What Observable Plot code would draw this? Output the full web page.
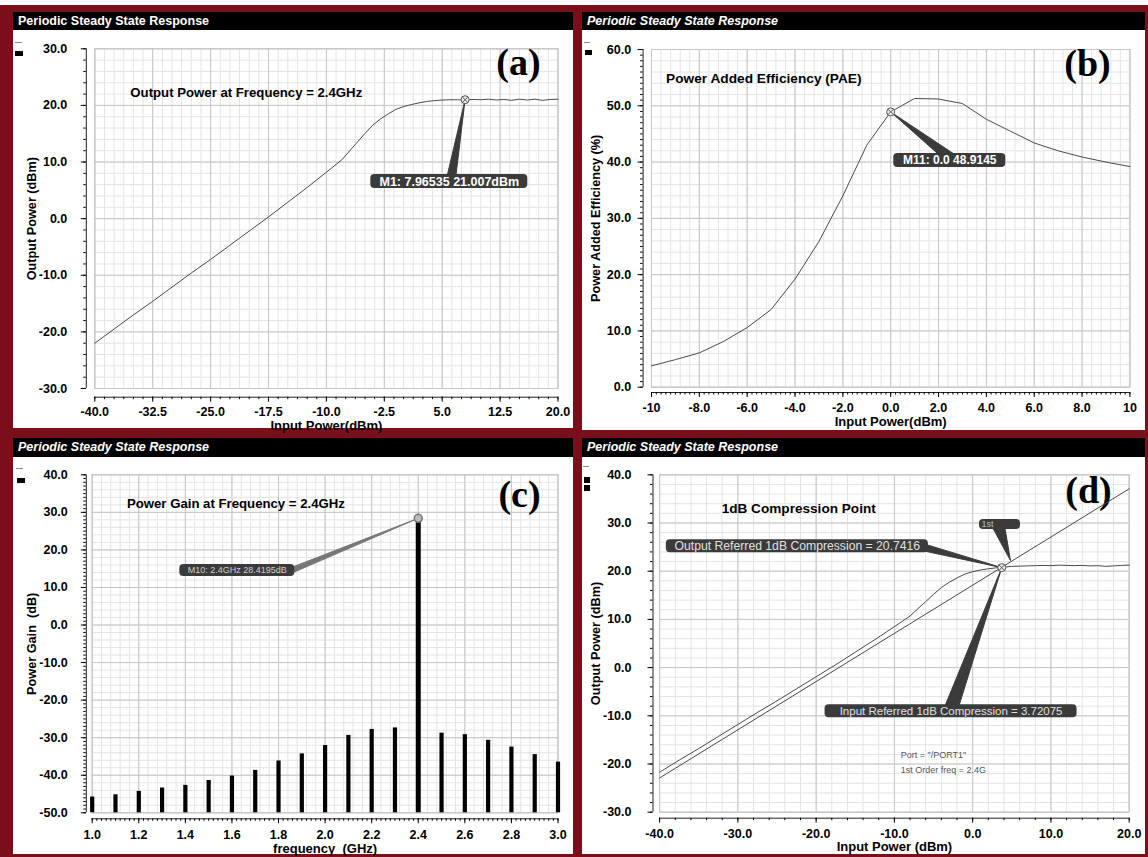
<!DOCTYPE html>
<html><head><meta charset="utf-8">
<script src="https://cdn.jsdelivr.net/npm/d3@7"></script>
<script src="https://cdn.jsdelivr.net/npm/@observablehq/plot@0.6"></script>
<style>
html,body{margin:0;padding:0;background:#fff;}
#fig{position:relative;width:1148px;height:857px;background:#fff;overflow:hidden;font-family:Arial,"Liberation Sans",Helvetica,sans-serif;}
.bg{position:absolute;left:0;top:5px;width:1148px;height:852px;background:#7a0f1c;}
.panel{position:absolute;background:#fff;}
.bar{position:absolute;background:#000;color:#fff;font-weight:bold;font-size:12.5px;line-height:18px;padding-left:5px;box-sizing:border-box;white-space:nowrap;}
.bar.it{font-style:italic;}
.leg{position:absolute;}
.plot{position:absolute;}
</style></head><body>
<div id="fig">
  <div class="bg"></div>
  <div class="panel" style="left:13px;top:12px;width:560px;height:416px"></div>
  <div class="panel" style="left:582px;top:12px;width:563px;height:418px"></div>
  <div class="panel" style="left:13px;top:438px;width:560px;height:416px"></div>
  <div class="panel" style="left:582px;top:438px;width:563px;height:416px"></div>
  <div class="bar" style="left:13px;top:12px;width:560px;height:18px">Periodic Steady State Response</div>
  <div class="bar it" style="left:582px;top:12px;width:563px;height:18px">Periodic Steady State Response</div>
  <div class="bar it" style="left:13px;top:438px;width:560px;height:19px">Periodic Steady State Response</div>
  <div class="bar it" style="left:582px;top:438px;width:563px;height:19px">Periodic Steady State Response</div>
  <div class="leg" style="left:15px;top:42px;width:7px;height:1px;background:#888"></div>
  <div class="leg" style="left:15px;top:51px;width:8px;height:5px;background:#000"></div>
  <div class="leg" style="left:584px;top:42px;width:6px;height:1px;background:#888"></div>
  <div class="leg" style="left:585px;top:50px;width:7px;height:5px;background:#000"></div>
  <div class="leg" style="left:16px;top:468px;width:7px;height:1px;background:#888"></div>
  <div class="leg" style="left:17px;top:478px;width:8px;height:5px;background:#000"></div>
  <div class="leg" style="left:583px;top:466px;width:6px;height:1px;background:#888"></div>
  <div class="leg" style="left:584px;top:477px;width:6px;height:6px;background:#000"></div>
  <div class="leg" style="left:584px;top:485px;width:6px;height:6px;background:#000"></div>
  <div class="plot" id="pa" style="left:13px;top:30px"></div>
  <div class="plot" id="pb" style="left:582px;top:30px"></div>
  <div class="plot" id="pc" style="left:13px;top:457px"></div>
  <div class="plot" id="pd" style="left:582px;top:457px"></div>
</div>
<script>
// ---------- (a) Output power vs input power ----------
const aInput = [-40,-37.5,-35,-32.5,-30,-27.5,-25,-22.5,-20,-17.5,-15,-12.5,-10,-9,-8,-7,-6,-5,-4,-3,-2,-1,0,1,2,3,4,5,6,7,8,9,10,11,12,13,14,15,16,17,18,19,20];
const aOutput = [-22.0,-19.5,-17.0,-14.6,-12.1,-9.6,-7.2,-4.7,-2.2,0.3,2.9,5.5,8.2,9.3,10.4,11.95,13.5,15.05,16.5,17.6,18.5,19.3,19.8,20.15,20.45,20.7,20.85,20.95,21.0,21.0,21.0,21.05,21.0,21.1,20.95,21.05,20.9,21.1,20.95,21.1,20.9,21.05,21.1];
const aXTicks = [-40,-32.5,-25,-17.5,-10,-2.5,5,12.5,20];
const aXTickLabels = ["-40.0","-32.5","-25.0","-17.5","-10.0","-2.5","5.0","12.5","20.0"];
const aYTicks = [30,20,10,0,-10,-20,-30];
const aYTickLabels = ["30.0","20.0","10.0","0.0","-10.0","-20.0","-30.0"];
const aMarker = [{x: 7.96535, y: 21.007}];
const aLabel = [{text: "M1: 7.96535 21.007dBm", x: 5.92, y: 6.56}];
const aWedge = [{x: 5.6, y: 7.3}, {x: 7.96535, y: 21.007}, {x: 6.75, y: 7.3}];
const aNote = [{text: "Output Power at Frequency = 2.4GHz", x: -35.4, y: 22.3}];

// ---------- (b) Power added efficiency ----------
const bInput = [-10,-9,-8,-7,-6,-5,-4,-3,-2,-1,0,1,2,3,4,5,6,7,8,9,10];
const bPAE = [3.8,4.9,6.1,8.1,10.6,13.8,19.2,25.9,34.0,43.0,48.9145,51.3,51.2,50.4,47.6,45.5,43.4,42.0,40.9,40.0,39.2];
const bXTicks = [-10,-8,-6,-4,-2,0,2,4,6,8,10];
const bXTickLabels = ["-10","-8.0","-6.0","-4.0","-2.0","0.0","2.0","4.0","6.0","8.0","10"];
const bYTicks = [60,50,40,30,20,10,0];
const bYTickLabels = ["60.0","50.0","40.0","30.0","20.0","10.0","0.0"];
const bMarker = [{x: 0, y: 48.9145}];
const bLabel = [{text: "M11: 0.0 48.9145", x: 2.47, y: 40.3}];
const bWedge = [{x: 2.1, y: 41.0}, {x: 0, y: 48.9145}, {x: 2.8, y: 41.0}];
const bNote = [{text: "Power Added Efficiency (PAE)", x: -9.39, y: 54.9}];

// ---------- (c) Power gain spectrum ----------
const cFreq = [1.0,1.1,1.2,1.3,1.4,1.5,1.6,1.7,1.8,1.9,2.0,2.1,2.2,2.3,2.4,2.5,2.6,2.7,2.8,2.9,3.0];
const cGain = [-45.8,-45.2,-44.3,-43.4,-42.7,-41.4,-40.2,-38.7,-36.2,-34.3,-32.1,-29.4,-27.8,-27.4,28.4195,-28.8,-29.2,-30.7,-32.5,-34.5,-36.5];
const cXTicks = [1.0,1.2,1.4,1.6,1.8,2.0,2.2,2.4,2.6,2.8,3.0];
const cXTickLabels = ["1.0","1.2","1.4","1.6","1.8","2.0","2.2","2.4","2.6","2.8","3.0"];
const cYTicks = [40,30,20,10,0,-10,-20,-30,-40,-50];
const cYTickLabels = ["40.0","30.0","20.0","10.0","0.0","-10.0","-20.0","-30.0","-40.0","-50.0"];
const cMarker = [{x: 2.4, y: 28.4195}];
const cLabel = [{text: "M10: 2.4GHz 28.4195dB", x: 1.623, y: 14.5}];
const cWedge = [{x: 1.85, y: 15.2}, {x: 2.4, y: 28.4195}, {x: 1.86, y: 13.9}];
const cNote = [{text: "Power Gain at Frequency = 2.4GHz", x: 1.149, y: 32.3}];

// ---------- (d) 1 dB compression point ----------
const dInput = [-40,-37.5,-35,-32.5,-30,-27.5,-25,-22.5,-20,-17.5,-15,-12.5,-10,-9,-8,-7,-6,-5,-4,-3,-2,-1,0,1,2,3,4,5,6,7,8,9,10,11,12,13,14,15,16,17,18,19,20];
const dOutput = [-21.7,-19.2,-16.8,-14.3,-11.8,-9.3,-6.9,-4.4,-1.9,0.6,3.2,5.8,8.5,9.6,10.7,12.2,13.7,15.2,16.6,17.7,18.6,19.4,19.9,20.25,20.5,20.7,20.85,21.0,21.05,21.1,21.15,21.2,21.15,21.25,21.2,21.15,21.2,21.1,21.15,21.0,21.1,21.2,21.25];
const dLinInput = [-40, 20];
const dLinOutput = [-22.9, 37.1];
const dXTicks = [-40,-30,-20,-10,0,10,20];
const dXTickLabels = ["-40.0","-30.0","-20.0","-10.0","0.0","10.0","20.0"];
const dYTicks = [40,30,20,10,0,-10,-20,-30];
const dYTickLabels = ["40.0","30.0","20.0","10.0","0.0","-10.0","-20.0","-30.0"];
const dMarker = [{x: 3.72075, y: 20.7416}];
const dOutLabel = [{text: "Output Referred 1dB Compression = 20.7416", x: -22.4, y: 25.2}];
const dOutWedge = [{x: -6.5, y: 25.8}, {x: 3.72075, y: 20.7416}, {x: -6.5, y: 24.3}];
const dInLabel = [{text: "Input Referred 1dB Compression = 3.72075", x: -2.76, y: -9.07}];
const dInWedge = [{x: -3.6, y: -8.2}, {x: 3.72075, y: 20.7416}, {x: -1.8, y: -8.2}];
const dFirstBox = [{text: "", x: 3.49, y: 29.7}];
const dFirstLabel = [{text: "1st", x: 1.9, y: 29.7}];
const dFirstWedge = [{x: 2.5, y: 29.2}, {x: 4.83, y: 22.2}, {x: 4.1, y: 29.2}];
const dNote = [{text: "1dB Compression Point", x: -32.07, y: 33.0}];
const dInfo = [{text: "Port = \"/PORT1\"", x: -9.18, y: -18.2}, {text: "1st Order freq = 2.4G", x: -9.18, y: -21.3}];

// ---------- helpers ----------
const SANS = 'Arial, "Liberation Sans", Helvetica, sans-serif';
const SERIF = '"Times New Roman", "Liberation Serif", serif';
const BOX = "#3b3b3b";
const TICK_FS = 12.5, TITLE_FS = 13, NOTE_FS = 13.3;

function labelBox(data, w, h, opts = {}) {
  return [
    Plot.rect(data, {x1: "x", x2: "x", y1: "y", y2: "y",
      insetLeft: -w / 2, insetRight: -w / 2, insetTop: -h / 2, insetBottom: -h / 2,
      rx: 4, fill: opts.boxFill || BOX}),
  ];
}
function labelText(data, opts = {}) {
  return Plot.text(data, {x: "x", y: "y", text: "text", fill: opts.color || "#fff",
    fontWeight: opts.weight || "bold", fontSize: opts.size || 12, textAnchor: opts.anchor || "middle",
    lineAnchor: "middle", fontFamily: SANS});
}
function wedge(data, color) {
  return Plot.line(data, {x: "x", y: "y", fill: color || BOX, stroke: color || BOX, strokeWidth: 1, curve: "linear-closed"});
}
function markerDot(data) {
  return [
    Plot.dot(data, {x: "x", y: "y", r: 4, stroke: "#555", fill: "#eee", strokeWidth: 1}),
    Plot.dot(data, {x: "x", y: "y", r: 2.6, symbol: "times", stroke: "#555", strokeWidth: 1})
  ];
}

function panel(o) {
  const xmin = o.xDomain[0], ymin = o.yDomain[0];
  const xLab = new Map(o.xTicks.map((t, i) => [t, o.xLabels[i]]));
  const yLab = new Map(o.yTicks.map((t, i) => [t, o.yLabels[i]]));
  return Plot.plot({
    width: o.width, height: o.height,
    marginLeft: o.ml, marginRight: o.mr, marginTop: o.mt, marginBottom: o.mb,
    x: {domain: o.xDomain}, y: {domain: o.yDomain},
    style: {fontFamily: SANS, fontSize: "11px", color: "#000", background: "transparent", overflow: "visible"},
    marks: [
      Plot.gridX(o.xMinorGrid, {stroke: "#e4e4e4", strokeOpacity: 1}),
      Plot.gridY(o.yMinorGrid, {stroke: "#e4e4e4", strokeOpacity: 1}),
      Plot.gridX(o.xTicks, {stroke: "#c6c6c6", strokeOpacity: 1}),
      Plot.gridY(o.yTicks, {stroke: "#c6c6c6", strokeOpacity: 1}),
      Plot.frame({stroke: "#c6c6c6"}),
      Plot.ruleX([xmin], {dx: o.yAxisDx, stroke: "#222"}),
      Plot.ruleY([ymin], {dy: o.xAxisDy, stroke: "#222"}),
      Plot.axisY(o.yMinorTicks, {anchor: "left", dx: o.yAxisDx, tickSize: 2.5, tickFormat: () => "", label: null}),
      Plot.axisY(o.yTicks, {anchor: "left", dx: o.yAxisDx, tickSize: 5, tickPadding: o.yPad, tickFormat: d => yLab.get(d), fontWeight: "bold", fontSize: TICK_FS, label: null}),
      Plot.axisX(o.xMinorTicks, {anchor: "bottom", dy: o.xAxisDy, tickSize: 2.5, tickFormat: () => "", label: null}),
      Plot.axisX(o.xTicks, {anchor: "bottom", dy: o.xAxisDy, tickSize: 5, tickPadding: o.xPad, tickFormat: d => xLab.get(d), fontWeight: "bold", fontSize: TICK_FS, label: null}),
      Plot.text([o.xTitle], {text: d => d, frameAnchor: "bottom", lineAnchor: "middle", textAnchor: "middle", dy: o.xTitleDy, fontWeight: "bold", fontSize: TITLE_FS}),
      Plot.text([o.yTitle], {text: d => d, frameAnchor: "left", lineAnchor: "middle", textAnchor: "middle", rotate: -90, dx: o.yTitleDx, fontWeight: "bold", fontSize: 12.7}),
      Plot.text([o.letter], {text: d => d, frameAnchor: "top-right", lineAnchor: "middle", textAnchor: "middle", dx: o.letterDx, dy: o.letterDy, fontWeight: "bold", fontSize: 38, fontFamily: SERIF}),
      ...o.marks
    ]
  });
}

const rng = (a, b, s) => d3.range(0, Math.round((b - a) / s) + 1).map(i => +(a + i * s).toFixed(4));

document.getElementById("pa").append(panel({
  width: 560, height: 398, ml: 81.3, mr: 15.5, mt: 18.3, mb: 40,
  xDomain: [-40, 20], yDomain: [-30, 30],
  xTicks: aXTicks, xLabels: aXTickLabels, yTicks: aYTicks, yLabels: aYTickLabels,
  xMinorGrid: rng(-40, 20, 1.25), yMinorGrid: rng(-30, 30, 2),
  xMinorTicks: rng(-40, 20, 1.25), yMinorTicks: rng(-30, 30, 2),
  yAxisDx: -8.5, yPad: 14, xAxisDy: 8.7, xPad: 5,
  xTitle: "Input Power(dBm)", yTitle: "Output Power (dBm)", xTitleDy: 37, yTitleDx: -63.3,
  letter: "(a)", letterDx: -39.5, letterDy: 14,
  marks: [
    Plot.line(aInput.map((x, i) => ({x, y: aOutput[i]})), {x: "x", y: "y", stroke: "#4a4a4a", strokeWidth: 1}),
    Plot.text(aNote, {x: "x", y: "y", text: "text", textAnchor: "start", fontWeight: "bold", fontSize: 13.2}),
    wedge(aWedge),
    ...labelBox(aLabel, 157, 14),
    labelText(aLabel, {size: 12.5}),
    ...markerDot(aMarker)
  ]
}));

document.getElementById("pb").append(panel({
  width: 563, height: 398, ml: 69, mr: 15.6, mt: 19, mb: 41.3,
  xDomain: [-10, 10], yDomain: [0, 60],
  xTicks: bXTicks, xLabels: bXTickLabels, yTicks: bYTicks, yLabels: bYTickLabels,
  xMinorGrid: rng(-10, 10, 0.4), yMinorGrid: rng(0, 60, 2),
  xMinorTicks: rng(-10, 10, 0.2), yMinorTicks: rng(0, 60, 1),
  yAxisDx: -8.4, yPad: 7, xAxisDy: 5.3, xPad: 6,
  xTitle: "Input Power(dBm)", yTitle: "Power Added Efficiency (%)", xTitleDy: 35, yTitleDx: -56,
  letter: "(b)", letterDx: -42.4, letterDy: 14,
  marks: [
    Plot.line(bInput.map((x, i) => ({x, y: bPAE[i]})), {x: "x", y: "y", stroke: "#4a4a4a", strokeWidth: 1}),
    Plot.text(bNote, {x: "x", y: "y", text: "text", textAnchor: "start", fontWeight: "bold", fontSize: 13.7}),
    wedge(bWedge),
    ...labelBox(bLabel, 112, 14),
    labelText(bLabel, {size: 12}),
    ...markerDot(bMarker)
  ]
}));

const cData = cFreq.map((x, i) => ({x, y: cGain[i]}));
document.getElementById("pc").append(panel({
  width: 560, height: 397, ml: 78.7, mr: 15.5, mt: 17.3, mb: 41.7,
  xDomain: [1, 3], yDomain: [-50, 40],
  xTicks: cXTicks, xLabels: cXTickLabels, yTicks: cYTicks, yLabels: cYTickLabels,
  xMinorGrid: rng(1, 3, 0.04), yMinorGrid: rng(-50, 40, 2),
  xMinorTicks: rng(1, 3, 0.02), yMinorTicks: rng(-50, 40, 1),
  yAxisDx: -5.9, yPad: 13.5, xAxisDy: 6, xPad: 6.5,
  xTitle: "frequency  (GHz)", yTitle: "Power Gain  (dB)", xTitleDy: 35.7, yTitleDx: -60.3,
  letter: "(c)", letterDx: -38.5, letterDy: 19.7,
  marks: [
    Plot.ruleX(cData.filter(d => d.y < 0), {x: "x", y1: -50, y2: "y", stroke: "#000", strokeWidth: 4.2}),
    Plot.ruleX(cData.filter(d => d.y > 0), {x: "x", y1: -50, y2: "y", stroke: "#000", strokeWidth: 5}),
    Plot.text(cNote, {x: "x", y: "y", text: "text", textAnchor: "start", fontWeight: "bold", fontSize: 13.2}),
    wedge(cWedge, "#777"),
    ...labelBox(cLabel, 115, 12),
    labelText(cLabel, {size: 9, weight: "normal", color: "#d0d0d0"}),
    Plot.dot(cMarker, {x: "x", y: "y", r: 4, fill: "#bbb", stroke: "#777"})
  ]
}));

document.getElementById("pd").append(panel({
  width: 563, height: 397, ml: 77.1, mr: 16.3, mt: 17.3, mb: 42.3,
  xDomain: [-40, 20], yDomain: [-30, 40],
  xTicks: dXTicks, xLabels: dXTickLabels, yTicks: dYTicks, yLabels: dYTickLabels,
  xMinorGrid: rng(-40, 20, 2), yMinorGrid: rng(-30, 40, 2),
  xMinorTicks: rng(-40, 20, 2), yMinorTicks: rng(-30, 40, 2),
  yAxisDx: -6.6, yPad: 16.5, xAxisDy: 6, xPad: 6,
  xTitle: "Input Power (dBm)", yTitle: "Output Power (dBm)", xTitleDy: 35, yTitleDx: -64,
  letter: "(d)", letterDx: -40.7, letterDy: 15.7,
  marks: [
    Plot.line(dLinInput.map((x, i) => ({x, y: dLinOutput[i]})), {x: "x", y: "y", stroke: "#4a4a4a", strokeWidth: 1}),
    Plot.line(dInput.map((x, i) => ({x, y: dOutput[i]})), {x: "x", y: "y", stroke: "#4a4a4a", strokeWidth: 1}),
    Plot.text(dNote, {x: "x", y: "y", text: "text", textAnchor: "start", fontWeight: "bold", fontSize: 13.6}),
    Plot.text(dInfo, {x: "x", y: "y", text: "text", textAnchor: "start", fontSize: 9, fill: "#555"}),
    wedge(dOutWedge), wedge(dInWedge), wedge(dFirstWedge),
    ...labelBox(dOutLabel, 262, 13),
    labelText(dOutLabel, {size: 12.2, weight: "normal", color: "#e0e0e0"}),
    ...labelBox(dInLabel, 252, 13),
    labelText(dInLabel, {size: 11.5, weight: "normal", color: "#e0e0e0"}),
    ...labelBox(dFirstBox, 41, 10),
    labelText(dFirstLabel, {size: 9, weight: "normal", color: "#bbb"}),
    ...markerDot(dMarker)
  ]
}));
</script>
</body></html>
